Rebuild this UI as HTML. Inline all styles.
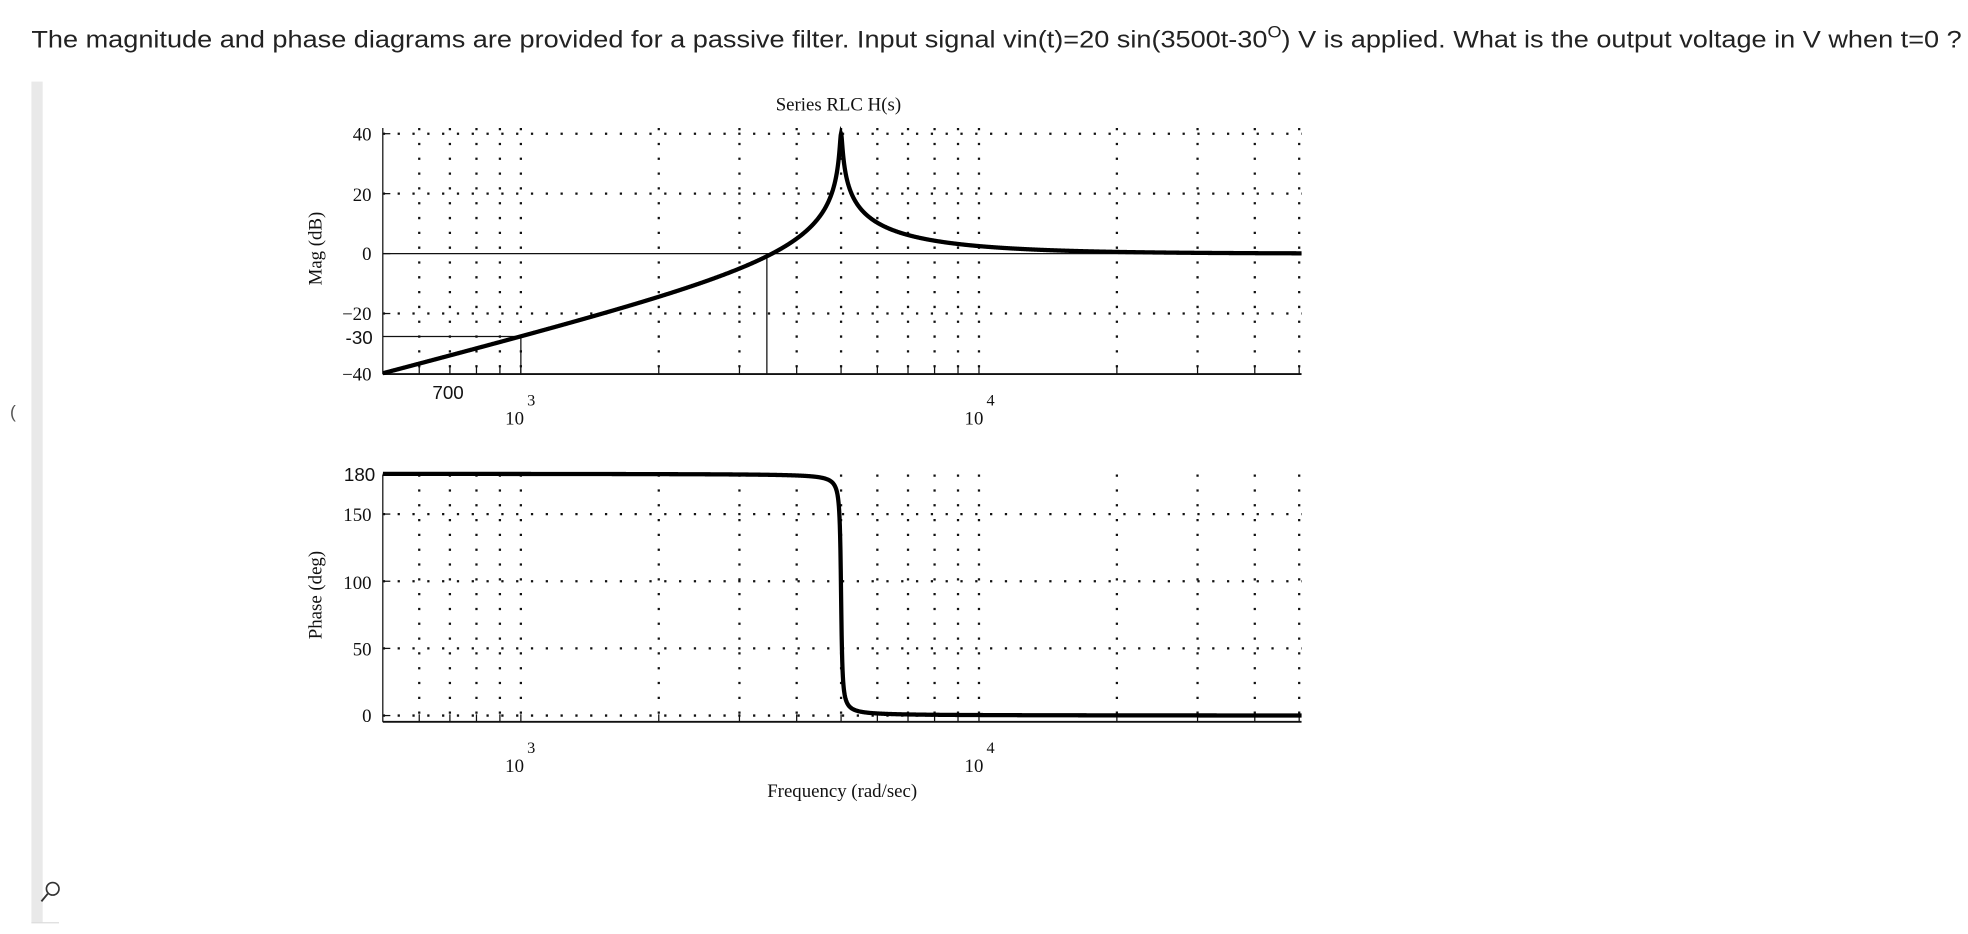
<!DOCTYPE html>
<html><head><meta charset="utf-8"><style>
html,body{margin:0;padding:0;background:#fff;}
svg{display:block;}
</style></head><body>
<svg id="s" width="1968" height="934" viewBox="0 0 1568 744" preserveAspectRatio="none" xmlns="http://www.w3.org/2000/svg">
<rect width="1568" height="744" fill="#fff"/>
<text x="25" y="38" font-family="Liberation Sans, sans-serif" font-size="19.5" textLength="1538" lengthAdjust="spacingAndGlyphs" fill="#222">The magnitude and phase diagrams are provided for a passive filter. Input signal vin(t)=20 sin(3500t-30<tspan dy="-8" font-size="13">O</tspan><tspan dy="8">) V is applied. What is the output voltage in V when t=0 ?</tspan></text>
<rect x="25" y="65" width="9" height="670" fill="#e9e9e9"/>
<line x1="25" y1="735" x2="47" y2="735" stroke="#ddd"/>
<text x="8" y="333" font-family="Liberation Sans, sans-serif" font-size="14" fill="#555">(</text>
<circle cx="42" cy="708" r="5" fill="none" stroke="#333" stroke-width="1.3"/>
<line x1="38" y1="712" x2="33" y2="718" stroke="#333" stroke-width="1.5"/>
<g id="g"></g>
<g font-family="Liberation Serif, serif" font-size="15" fill="#111">
<text x="668" y="88" text-anchor="middle">Series RLC    H(s)</text>
<text x="296" y="112" text-anchor="end">40</text>
<text x="296" y="160" text-anchor="end">20</text>
<text x="296" y="207" text-anchor="end">0</text>
<text x="296" y="255" text-anchor="end">−20</text>
<text x="296" y="303" text-anchor="end">−40</text>
<text x="296" y="415" text-anchor="end">150</text>
<text x="296" y="469" text-anchor="end">100</text>
<text x="296" y="522" text-anchor="end">50</text>
<text x="296" y="575" text-anchor="end">0</text>
<text x="410" y="338" text-anchor="middle">10</text><text x="420" y="323" font-size="13">3</text>
<text x="776" y="338" text-anchor="middle">10</text><text x="786" y="323" font-size="13">4</text>
<text x="410" y="615" text-anchor="middle">10</text><text x="420" y="600" font-size="13">3</text>
<text x="776" y="615" text-anchor="middle">10</text><text x="786" y="600" font-size="13">4</text>
<text x="671" y="635" text-anchor="middle">Frequency (rad/sec)</text>
<text transform="translate(256,198) rotate(-90)" text-anchor="middle">Mag (dB)</text>
<text transform="translate(256,474) rotate(-90)" text-anchor="middle">Phase (deg)</text>
</g>
<g font-family="Liberation Sans, sans-serif" font-size="15" fill="#111">
<text x="297" y="274" text-anchor="end">-30</text>
<text x="357" y="318" text-anchor="middle">700</text>
<text x="299" y="383" text-anchor="end">180</text>
</g>
</svg>
<script>
var g=document.getElementById('g'),ns='http://www.w3.org/2000/svg';
function el(n,a){var e=document.createElementNS(ns,n);for(var k in a)e.setAttribute(k,a[k]);g.appendChild(e);return e;}
var L=305,R=1037,D=365;
function X(w){return 415+(Math.log10(w)-3)*D;}
function my(db){return 202-db*95.5/40;}
function py(p){return 570-p*192.6/180;}
var ws=[600,700,800,900,1000,2000,3000,4000,5000,6000,7000,8000,9000,10000,20000,30000,40000,50000];
var dot={stroke:'#111','stroke-width':1.8,'stroke-dasharray':'1.8 10'};
ws.forEach(function(w){var x=X(w);
 el('line',Object.assign({x1:x,y1:102,x2:x,y2:298},dot));
 el('line',Object.assign({x1:x,y1:378,x2:x,y2:575},dot));
 el('line',{x1:x,y1:298,x2:x,y2:292,stroke:'#111'});
 el('line',{x1:x,y1:575,x2:x,y2:569,stroke:'#111'});
});
[40,20,-20].forEach(function(d){el('line',Object.assign({x1:L,y1:my(d),x2:R,y2:my(d)},dot));});
[150,100,50,0].forEach(function(d){el('line',Object.assign({x1:L,y1:py(d),x2:R,y2:py(d)},dot));});
el('line',{x1:L,y1:102,x2:L,y2:298,stroke:'#111'});
el('line',{x1:L,y1:298,x2:R,y2:298,stroke:'#111','stroke-width':1.5});
el('line',{x1:L,y1:378,x2:L,y2:575,stroke:'#111'});
el('line',{x1:L,y1:575,x2:R,y2:575,stroke:'#111','stroke-width':1.5});
[40,20,0,-20,-40].forEach(function(d){el('line',{x1:L,y1:my(d),x2:L+6,y2:my(d),stroke:'#111'});});
[180,150,100,50,0].forEach(function(d){el('line',{x1:L,y1:py(d),x2:L+6,y2:py(d),stroke:'#111'});});
el('line',{x1:L,y1:my(0),x2:R,y2:my(0),stroke:'#111','stroke-width':1});
el('line',{x1:611,y1:my(0),x2:611,y2:298,stroke:'#111','stroke-width':1});
el('line',{x1:L,y1:268,x2:415,y2:268,stroke:'#111','stroke-width':1});
el('line',{x1:415,y1:268,x2:415,y2:298,stroke:'#111','stroke-width':1});
var z=0.005,w0=5000,m='',p='';
for(var i=0;i<=3000;i++){
 var lw=Math.log10(500)+(Math.log10(50600)-Math.log10(500))*i/3000,w=Math.pow(10,lw),x=w/w0;
 var re=1-x*x,im=2*z*x,mag=20*Math.log10(x*x/Math.sqrt(re*re+im*im));
 mag=Math.min(mag,40);
 var ph=180-Math.atan2(im,re)*180/Math.PI;
 var xx=X(w).toFixed(2);
 m+=(i?'L':'M')+xx+','+my(mag).toFixed(2);
 p+=(i?'L':'M')+xx+','+py(ph).toFixed(2);
}
el('path',{d:m,fill:'none',stroke:'#000','stroke-width':3.4});
el('path',{d:p,fill:'none',stroke:'#000','stroke-width':3.4});
</script>
</body></html>
